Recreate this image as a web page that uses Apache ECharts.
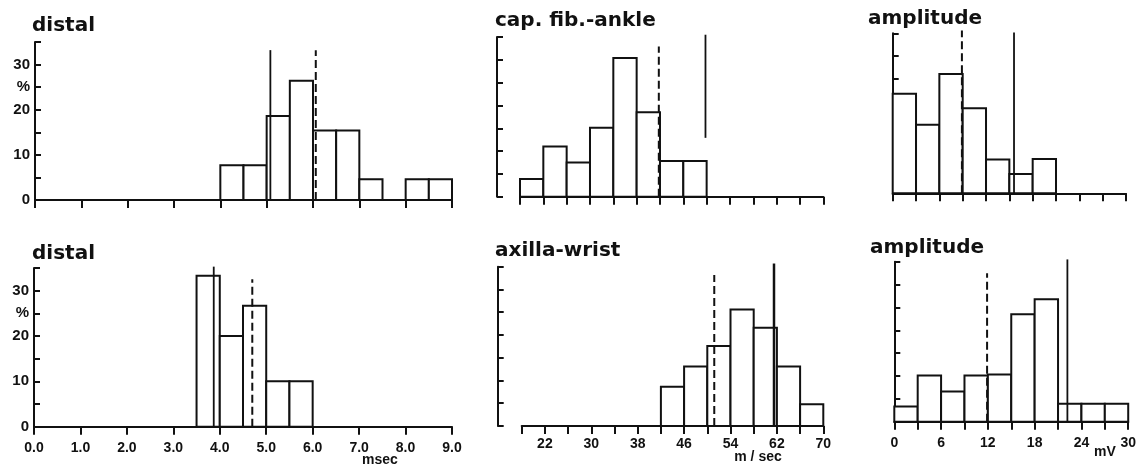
<!DOCTYPE html>
<html>
<head>
<meta charset="utf-8">
<script src="https://cdn.jsdelivr.net/npm/echarts@6/dist/echarts.min.js"></script>
<style>
  html, body { margin: 0; padding: 0; background: #fff; }
  #chart { width: 1139px; height: 465px; }
</style>
</head>
<body>
<div id="chart"></div>
<script>
// histogram bins: start of each bin and percentage
var distalTopStart = [4.0, 4.5, 5.0, 5.5, 6.0, 6.5, 7.0, 8.0, 8.5];
var distalTopPct = [7.7, 7.7, 18.6, 26.4, 15.4, 15.4, 4.6, 4.6, 4.6];
var distalBotStart = [3.5, 4.0, 4.5, 5.0, 5.5];
var distalBotPct = [33.3, 20.0, 26.7, 10.0, 10.0];
var capStart = [18, 22, 26, 30, 34, 38, 42, 46];
var capPct = [3.9, 11.0, 7.5, 15.1, 30.4, 18.5, 7.8, 7.8];
var axillaStart = [42, 46, 50, 54, 58, 62, 66];
var axillaPct = [8.6, 13.1, 17.6, 25.6, 21.6, 13.1, 4.8];
var ampTopStart = [0, 3, 6, 9, 12, 15, 18];
var ampTopPct = [21.8, 15.0, 26.1, 18.6, 7.4, 4.2, 7.5];
var ampBotStart = [0, 3, 6, 9, 12, 15, 18, 21, 24, 27];
var ampBotPct = [3.3, 10.1, 6.6, 10.1, 10.3, 23.5, 26.8, 3.9, 3.9, 3.9];

// bin widths
var msecBin = 0.5, velBin = 4, mvBin = 3;

// reference lines: [x, from %, to %]
var distalTopSolid = [5.08, 0, 33.2], distalTopDash = [6.06, 0, 33.2];
var distalBotSolid = [3.87, 0, 35.3], distalBotDash = [4.7, 0, 32.5];
var capSolid = [49.8, 12.9, 35.5], capDash = [41.8, 0, 32.9];
var axillaSolid = [61.5, 0, 35.7], axillaDash = [51.2, 0, 33.2];
var ampTopSolid = [15.6, 0, 35.2], ampTopDash = [8.9, 0, 35.6];
var ampBotSolid = [22.2, 0, 35.5], ampBotDash = [11.9, 0, 32.5];

var ink = "#111";

function bins(start, pct, w) {
  return start.map(function (s, i) { return [s, s + w, pct[i]]; });
}

function histSeries(idx, data) {
  return {
    type: "custom",
    xAxisIndex: idx,
    yAxisIndex: idx,
    clip: false,
    data: data,
    renderItem: function (params, api) {
      var p0 = api.coord([api.value(0), 0]);
      var p1 = api.coord([api.value(1), api.value(2)]);
      return {
        type: "rect",
        shape: { x: p0[0], y: p1[1], width: p1[0] - p0[0], height: p0[1] - p1[1] },
        style: { fill: "#fff", stroke: ink, lineWidth: 2 },
      };
    },
  };
}

function refLine(idx, item, dashed, width) {
  return {
    type: "custom",
    xAxisIndex: idx,
    yAxisIndex: idx,
    clip: false,
    z: 5,
    data: [item],
    renderItem: function (params, api) {
      var a = api.coord([api.value(0), api.value(1)]);
      var b = api.coord([api.value(0), api.value(2)]);
      return {
        type: "line",
        shape: { x1: a[0], y1: a[1], x2: b[0], y2: b[1] },
        style: { stroke: ink, lineWidth: width, lineDash: dashed ? [8, 4] : null },
      };
    },
  };
}

var grids = [
  { left: 35, top: 42, width: 417, height: 158 },
  { left: 34, top: 268, width: 418, height: 158.7 },
  { left: 520, top: 37, width: 303.3, height: 159.7 },
  { left: 521.7, top: 266.7, width: 301.6, height: 159.3 },
  { left: 892.7, top: 33.3, width: 233.3, height: 160 },
  { left: 894.3, top: 261.7, width: 234, height: 160 },
];

function xAxis(idx, min, max, interval, showLabel, margin, fmt) {
  return {
    type: "value",
    gridIndex: idx,
    min: min,
    max: max,
    interval: interval,
    splitLine: { show: false },
    axisLine: { lineStyle: { color: ink, width: 2 } },
    axisTick: { length: 8, lineStyle: { color: ink, width: 2 } },
    axisLabel: {
      show: showLabel,
      margin: margin,
      formatter: fmt,
      color: ink,
      fontSize: 14,
      fontWeight: "bold",
      fontFamily: "Liberation Sans",
    },
  };
}

function yAxis(idx, offset, showLabel) {
  return {
    type: "value",
    gridIndex: idx,
    min: 0,
    max: 35,
    interval: 5,
    offset: offset,
    splitLine: { show: false },
    axisLine: { show: true, lineStyle: { color: ink, width: 2 } },
    axisTick: { inside: true, length: 6, lineStyle: { color: ink, width: 2 } },
    axisLabel: {
      show: showLabel,
      margin: 5,
      color: ink,
      fontSize: 15,
      fontWeight: "bold",
      fontFamily: "Liberation Sans",
      formatter: function (v) {
        if (v === 25) return "%";
        return v % 10 === 0 ? String(v) : "";
      },
    },
  };
}

var msecFmt = function (v) { return v.toFixed(1); };
var velFmt = function (v) { return (v - 22) % 8 === 0 ? String(v) : ""; };
var mvFmt = function (v) { return v % 6 === 0 ? String(v) : ""; };

function title(x, top, text) {
  return {
    type: "text", left: x, top: top,
    style: { text: text, fill: ink, fontSize: 20, fontWeight: "bold", fontFamily: "DejaVu Sans" },
  };
}
function unit(x, y, text) {
  return {
    type: "text", x: x, y: y,
    style: { text: text, fill: ink, fontSize: 14, fontWeight: "bold", fontFamily: "Liberation Sans", align: "center", verticalAlign: "middle" },
  };
}

var option = {
  backgroundColor: "#fff",
  animation: false,
  grid: grids,
  xAxis: [
    xAxis(0, 0, 9, 1, false, 14, msecFmt),
    xAxis(1, 0, 9, 1, true, 14, msecFmt),
    xAxis(2, 18, 70, 4, false, 11, velFmt),
    xAxis(3, 18, 70, 4, true, 11, velFmt),
    xAxis(4, 0, 30, 3, false, 14, mvFmt),
    xAxis(5, 0, 30, 3, true, 14, mvFmt),
  ],
  yAxis: [
    yAxis(0, 0, true),
    yAxis(1, 0, true),
    yAxis(2, 23, false),
    yAxis(3, 24, false),
    yAxis(4, 22, false),
    yAxis(5, 23.5, false),
  ],
  graphic: [
    title(32, 16, "distal"),
    title(32, 244, "distal"),
    title(495, 11, "cap. fib.-ankle"),
    title(495, 241, "axilla-wrist"),
    title(868, 9, "amplitude"),
    title(870, 238, "amplitude"),
    unit(380, 460, "msec"),
    unit(758, 457, "m / sec"),
    unit(1105, 452, "mV"),
  ],
  series: [
    histSeries(0, bins(distalTopStart, distalTopPct, msecBin)),
    histSeries(1, bins(distalBotStart, distalBotPct, msecBin)),
    histSeries(2, bins(capStart, capPct, velBin)),
    histSeries(3, bins(axillaStart, axillaPct, velBin)),
    histSeries(4, bins(ampTopStart, ampTopPct, mvBin)),
    histSeries(5, bins(ampBotStart, ampBotPct, mvBin)),
    refLine(0, distalTopSolid, false, 1.8),
    refLine(0, distalTopDash, true, 2),
    refLine(1, distalBotSolid, false, 1.8),
    refLine(1, distalBotDash, true, 2),
    refLine(2, capSolid, false, 1.8),
    refLine(2, capDash, true, 2),
    refLine(3, axillaSolid, false, 2.5),
    refLine(3, axillaDash, true, 2),
    refLine(4, ampTopSolid, false, 1.8),
    refLine(4, ampTopDash, true, 2),
    refLine(5, ampBotSolid, false, 1.8),
    refLine(5, ampBotDash, true, 2),
  ],
};

var chart = echarts.init(document.getElementById("chart"));
chart.setOption(option);
</script>
</body>
</html>
